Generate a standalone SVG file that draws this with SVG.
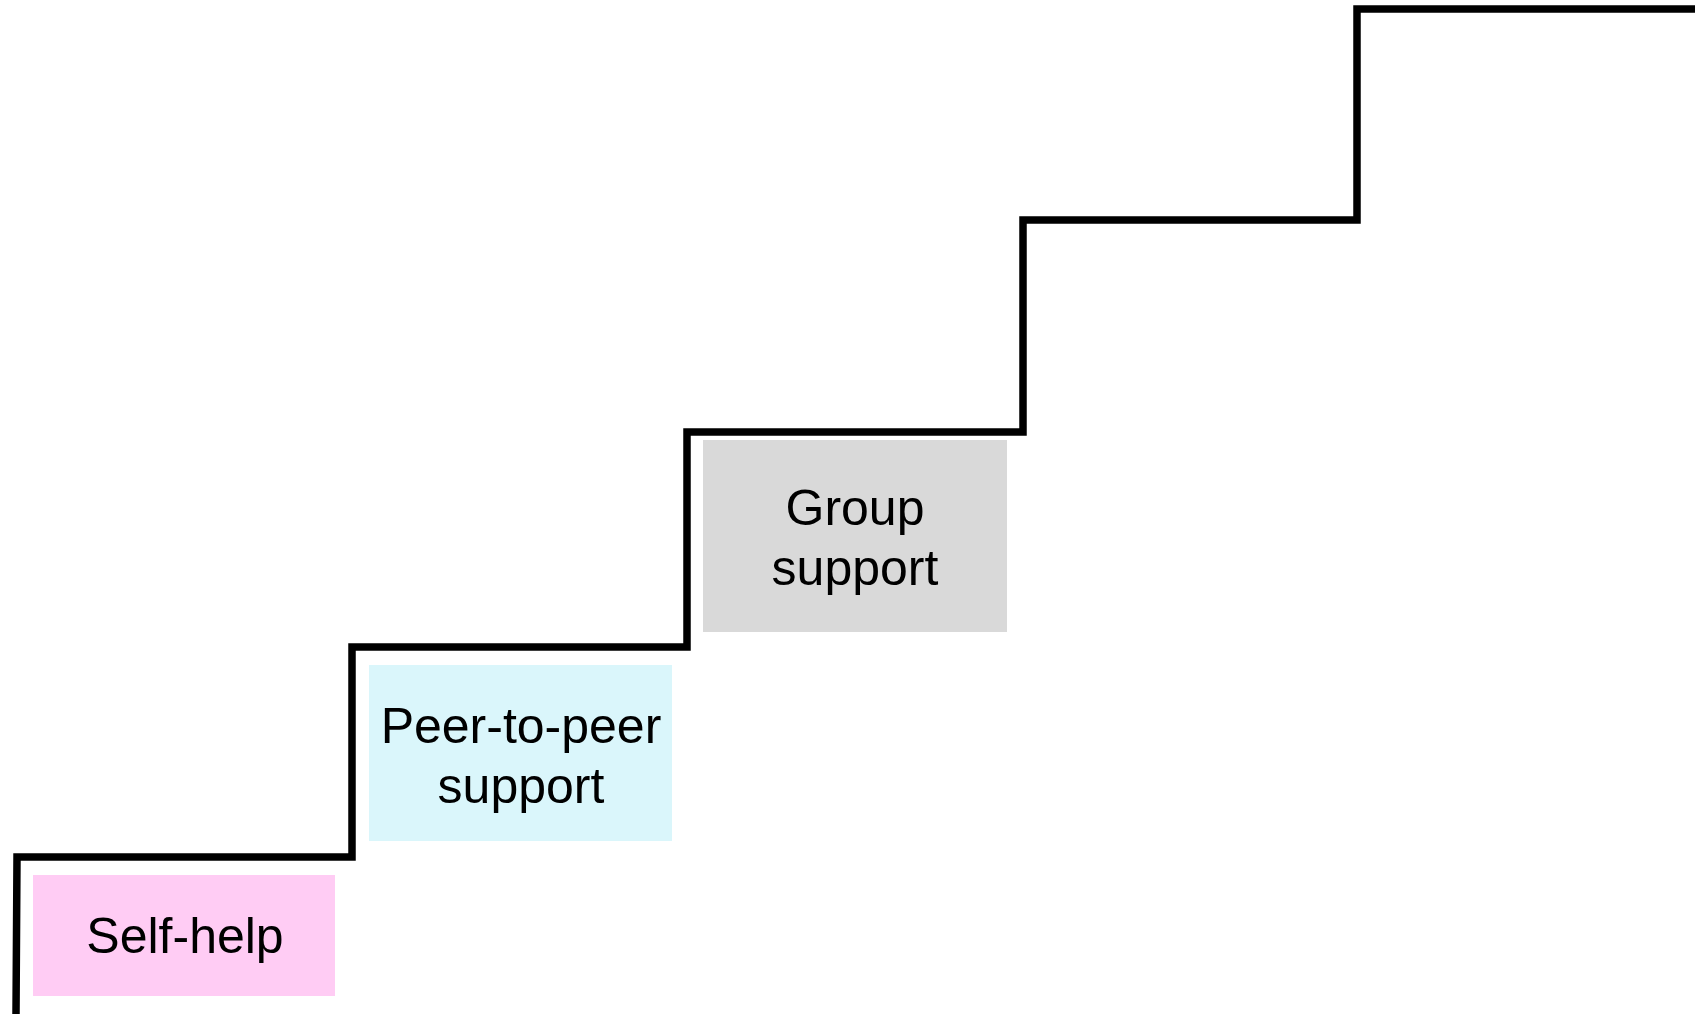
<svg xmlns="http://www.w3.org/2000/svg" width="1704" height="1014" viewBox="0 0 1704 1014">
<style>
.lbl{font-family:"Liberation Sans",Arial,sans-serif;font-size:50px;fill:#000;text-anchor:middle}
.stair{fill:none;stroke:#000;stroke-width:7.5;stroke-linejoin:miter;stroke-linecap:butt}
</style>
<rect width="1704" height="1014" fill="#fff"/>
<g id="connectors">
<polyline class="stair" points="16,1014 17,857 352,857 352,647 687,647 687,432 1023,432 1023,220 1357,220 1357,9 1695,9"/>
</g>
<g id="self-help">
<rect x="33" y="875" width="302" height="121" fill="#FFCCF4"/>
<text class="lbl" x="185" y="953">Self-help</text>
</g>
<g id="peer-to-peer">
<rect x="369" y="665" width="303" height="176" fill="#DAF6FB"/>
<text class="lbl" x="521" y="743">Peer-to-peer</text>
<text class="lbl" x="521" y="803">support</text>
</g>
<g id="group-support">
<rect x="703" y="440" width="304" height="192" fill="#D9D9D9"/>
<text class="lbl" x="855" y="525">Group</text>
<text class="lbl" x="855" y="585">support</text>
</g>
</svg>
